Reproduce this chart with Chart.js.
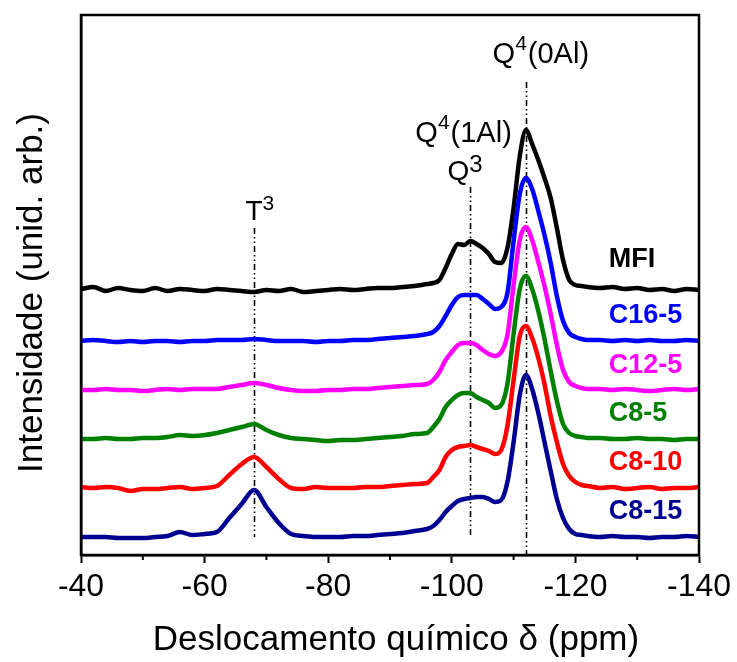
<!DOCTYPE html>
<html>
<head>
<meta charset="utf-8">
<script src="https://cdn.jsdelivr.net/npm/chart.js@4.4.0/dist/chart.umd.min.js"></script>
<style>
  html, body { margin: 0; padding: 0; background: #fff; }
</style>
</head>
<body>
<canvas id="nmr" width="737" height="662"></canvas>
<script>
// chemical shift grid (ppm)
const ppm = [-40, -42, -44, -46, -48, -50, -52, -54, -56, -58,
  -60, -62, -64, -66, -68, -70, -72, -74, -76, -78,
  -80, -82, -84, -86, -88, -90, -92, -94, -96,
  -97, -98, -99, -100, -101, -102, -103, -104, -105, -106,
  -107, -108, -109, -110, -111, -112, -113, -114, -115, -116,
  -117, -118, -119, -120, -121, -122,
  -124, -126, -128, -130, -132, -134, -136, -138, -140];

// intensities above each trace's own baseline (arb. units)
const mfi = [1, 3, -1, 2, 0, -1, 2, -1, 1, 0, -1, 1, 0, -1, -2, 0, -1, 1, -2, -1, 0, 1, 0, 1, 2, 2, 3, 4, 6,
  7, 10, 22, 36, 46, 45, 49, 46, 42, 36,
  28, 27, 42, 82, 134, 160, 146, 130, 112, 92,
  62, 30, 10, 5, 4, 3,
  2, 3, 1, 2, 0, 1, -1, 1, 0];
const c16_5 = [0, 1, 0, -1, 0, -1, 0, 0, -1, 0, 0, 1, 1, 1, 2, 1, 0, 0, 0, -1, 0, 0, 1, 1, 2, 3, 4, 5, 7,
  9, 15, 25, 36, 44, 46, 46, 46, 42, 37,
  32, 34, 48, 100, 147, 163, 152, 130, 106, 78,
  45, 20, 8, 4, 2, 1,
  1, 0, 1, 0, 1, 0, 0, 1, 0];
const c12_5 = [0, 0, 1, 0, 0, -1, 0, 1, 0, 1, 1, 1, 3, 5, 7, 5, 2, 0, -1, -1, 0, 0, 1, 1, 2, 3, 4, 5, 6,
  10, 18, 30, 38, 45, 47, 47, 45, 40, 36,
  34, 38, 55, 105, 150, 163, 150, 128, 104, 76,
  45, 20, 8, 4, 2, 1,
  1, 0, 1, 0, -1, 0, 1, 0, 1];
const c8_5 = [0, 0, 1, 0, 0, 1, 1, 2, 4, 3, 4, 6, 9, 12, 15, 9, 4, 1, 0, -1, -2, -1, -1, 0, 1, 2, 3, 5, 6,
  12, 20, 32, 39, 44, 46, 46, 42, 39, 36,
  31, 34, 55, 105, 150, 163, 150, 128, 100, 68,
  38, 15, 6, 3, 2, 1,
  1, 0, 0, 1, 0, 0, -1, 0, 0];
const c8_10 = [1, 0, 1, 0, -3, -1, -1, 0, 1, -1, 0, 2, 13, 24, 31, 21, 9, 0, -1, 1, 0, 0, 0, 1, 1, 2, 3, 4, 5,
  11, 18, 31, 38, 41, 42, 43, 41, 39, 37,
  34, 38, 62, 108, 152, 162, 150, 130, 104, 72,
  46, 24, 12, 6, 3, 2,
  0, 1, -1, 0, 1, -1, 0, 0, 1];
const c8_15 = [0, 0, 0, -1, -1, -1, 0, 1, 5, 2, 3, 5, 19, 33, 47, 30, 14, 3, 1, 0, 0, 0, 1, 1, 2, 3, 4, 6, 8,
  11, 17, 25, 31, 36, 38, 39, 40, 40, 38,
  35, 37, 55, 95, 142, 162, 148, 124, 95, 66,
  38, 19, 8, 3, 2, 1,
  0, 1, 0, 0, -1, 0, 0, 1, 0];

const names = ["MFI", "C16-5", "C12-5", "C8-5", "C8-10", "C8-15"];
const spectra = [mfi, c16_5, c12_5, c8_5, c8_10, c8_15];
const offsets = [265, 214, 165, 116, 67, 18];
const colors = ["#000000", "#0000ff", "#ff00ff", "#008000", "#ff0000", "#000090"];

// name label positions (ppm, intensity)
const nameX = -125.4;
const nameY = [295, 239.5, 189.5, 141, 92, 43];

// reference lines: T3, Q3, Q4(0Al)
const markPpm = [-68, -103, -112];
const markTop = [327, 368, 473];
const markBottom = [18, 18, 0];

// peak labels: ppm of left edge, intensity of baseline, parts [text, size, raise]
const peakLabels = [
  [-66.6, 335, [["T", 28, 0], ["3", 21, 10]]],
  [-99.3, 375, [["Q", 28, 0], ["3", 24, 8]]],
  [-94.1, 413, [["Q", 29, 0], ["4", 21, 13], ["(1Al)", 29, 0]]],
  [-106.6, 492, [["Q", 29, 0], ["4", 21, 13], ["(0Al)", 29, 0]]]
];

const minorTicks = [-50, -70, -90, -110, -130];

const xTitle = "Deslocamento químico δ (ppm)";
const yTitle = "Intensidade (unid. arb.)";

const FONT = "'Liberation Sans', Arial, sans-serif";

const decor = {
  id: "decor",
  beforeDatasetsDraw(chart) {
    const { ctx, scales: { x, y } } = chart;
    ctx.save();
    ctx.strokeStyle = "#000";
    ctx.lineWidth = 1.6;
    ctx.setLineDash([6, 3, 1.5, 3, 1.5, 3]);
    markPpm.forEach((p, i) => {
      const px = Math.round(x.getPixelForValue(p)) + 0.5;
      ctx.beginPath();
      ctx.moveTo(px, y.getPixelForValue(markTop[i]));
      ctx.lineTo(px, y.getPixelForValue(markBottom[i]));
      ctx.stroke();
    });
    ctx.restore();
  },
  afterDraw(chart) {
    const { ctx, chartArea: a, scales: { x, y } } = chart;
    ctx.save();
    // frame
    ctx.strokeStyle = "#000";
    ctx.lineWidth = 2.5;
    ctx.strokeRect(a.left, a.top, a.right - a.left, a.bottom - a.top);
    // minor ticks
    ctx.lineWidth = 2;
    minorTicks.forEach(v => {
      const px = x.getPixelForValue(v);
      ctx.beginPath();
      ctx.moveTo(px, a.bottom);
      ctx.lineTo(px, a.bottom + 5);
      ctx.stroke();
    });
    // axis titles
    ctx.fillStyle = "#000";
    ctx.font = "35px " + FONT;
    ctx.textAlign = "center";
    ctx.textBaseline = "alphabetic";
    ctx.fillText(xTitle, (a.left + a.right) / 2 + 6, 650);
    ctx.save();
    ctx.translate(42, (a.top + a.bottom) / 2 + 8);
    ctx.rotate(-Math.PI / 2);
    ctx.fillText(yTitle, 0, 0);
    ctx.restore();
    // sample names
    ctx.font = "bold 27px " + FONT;
    ctx.textBaseline = "middle";
    ctx.textAlign = "left";
    names.forEach((n, i) => {
      ctx.fillStyle = colors[i];
      ctx.fillText(n, x.getPixelForValue(nameX), y.getPixelForValue(nameY[i]));
    });
    // peak labels
    ctx.fillStyle = "#000";
    ctx.textBaseline = "alphabetic";
    peakLabels.forEach(([px, py, parts]) => {
      let cx = x.getPixelForValue(px);
      const by = y.getPixelForValue(py);
      parts.forEach(([t, size, raise]) => {
        ctx.font = size + "px " + FONT;
        ctx.fillText(t, cx, by - raise);
        cx += ctx.measureText(t).width + (raise ? 1 : 0);
      });
    });
    ctx.restore();
  }
};

const datasets = names.map((n, k) => ({
  label: n,
  data: ppm.map((p, i) => ({ x: p, y: offsets[k] + spectra[k][i] })),
  borderColor: colors[k],
  backgroundColor: colors[k],
  order: k === 5 ? 0 : 6 - k
}));

new Chart(document.getElementById("nmr"), {
  type: "line",
  data: { datasets: datasets },
  options: {
    responsive: false,
    animation: false,
    layout: { padding: { top: 15, right: 38, left: 0, bottom: 0 } },
    plugins: { legend: { display: false }, tooltip: { enabled: false } },
    elements: {
      point: { radius: 0 },
      line: { borderWidth: 4.5, cubicInterpolationMode: "monotone", borderJoinStyle: "round", borderCapStyle: "round" }
    },
    scales: {
      x: {
        type: "linear",
        reverse: true,
        min: -140,
        max: -40,
        ticks: { stepSize: 20, autoSkip: false, maxRotation: 0, color: "#000", padding: 5, font: { family: FONT, size: 32 } },
        grid: { drawOnChartArea: false, tickLength: 8, tickWidth: 2, tickColor: "#000" },
        border: { color: "#000", width: 2.5 },
        afterFit: s => { s.height = 107; }
      },
      y: {
        min: 0,
        max: 540,
        ticks: { display: false },
        grid: { display: false },
        border: { color: "#000", width: 2.5 },
        afterFit: s => { s.width = 81; }
      }
    }
  },
  plugins: [decor]
});
</script>
</body>
</html>
